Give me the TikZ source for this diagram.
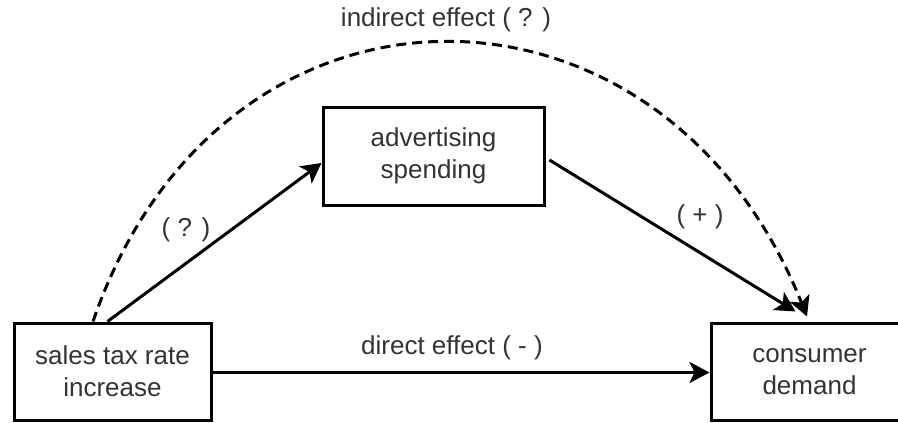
\documentclass[tikz,border=0pt]{standalone}
\usepackage{fontspec}
\setmainfont{Liberation Sans}
\usetikzlibrary{arrows.meta}
\definecolor{txt}{HTML}{333333}
\tikzset{
  box/.style={draw=black, line width=3pt, fill=white, align=center,
    text=txt, font=\fontsize{26}{32}\selectfont, inner sep=0pt},
  lbl/.style={text=txt, font=\fontsize{26}{32}\selectfont, inner sep=0pt},
  link/.style={draw=black, line width=3pt,
    -{Stealth[length=20pt,width=21pt,inset=5pt]}},
  dashlink/.style={link, dash pattern=on 10pt off 6pt}
}
\begin{document}
\begin{tikzpicture}[x=1pt,y=-1pt]
\useasboundingbox (0,0) rectangle (898,423);
\clip (0,0) rectangle (898,423);

% boxes
\node[box, minimum width=197pt, minimum height=97pt] (L) at (112.5,371.5)
  {sales tax rate\\increase};
\node[box, minimum width=221pt, minimum height=98pt] (M) at (433.5,156)
  {advertising\\spending};
\node[box, minimum width=197pt, minimum height=97pt] (R) at (809.5,371.5)
  {consumer\\demand};

% control points of the curved indirect path
\coordinate (c1) at (220,-49);
\coordinate (c2) at (661,-49);

% connectors
\draw[link] ([xshift=-5pt]L.north) -- ([yshift=-7pt]M.west);
\draw[link] ([yshift=-4pt,xshift=4pt]M.east) -- ([xshift=-14pt,yshift=10pt]R.north);
\draw[link] ([yshift=-1pt]L.east) -- ([yshift=-1pt]R.west);
\draw[dashlink] ([xshift=-19.5pt]L.north) .. controls (c1) and (c2) .. ([xshift=-2.5pt,yshift=5pt]R.north);

% labels
\node[lbl] (lind) at (446,20) {indirect effect ( ? )};
\node[lbl] (ldir) at (452,348) {direct effect ( - )};
\node[lbl] (lq) at (186,230) {( ? )};
\node[lbl] (lp) at (700,217) {( + )};
\end{tikzpicture}
\end{document}
